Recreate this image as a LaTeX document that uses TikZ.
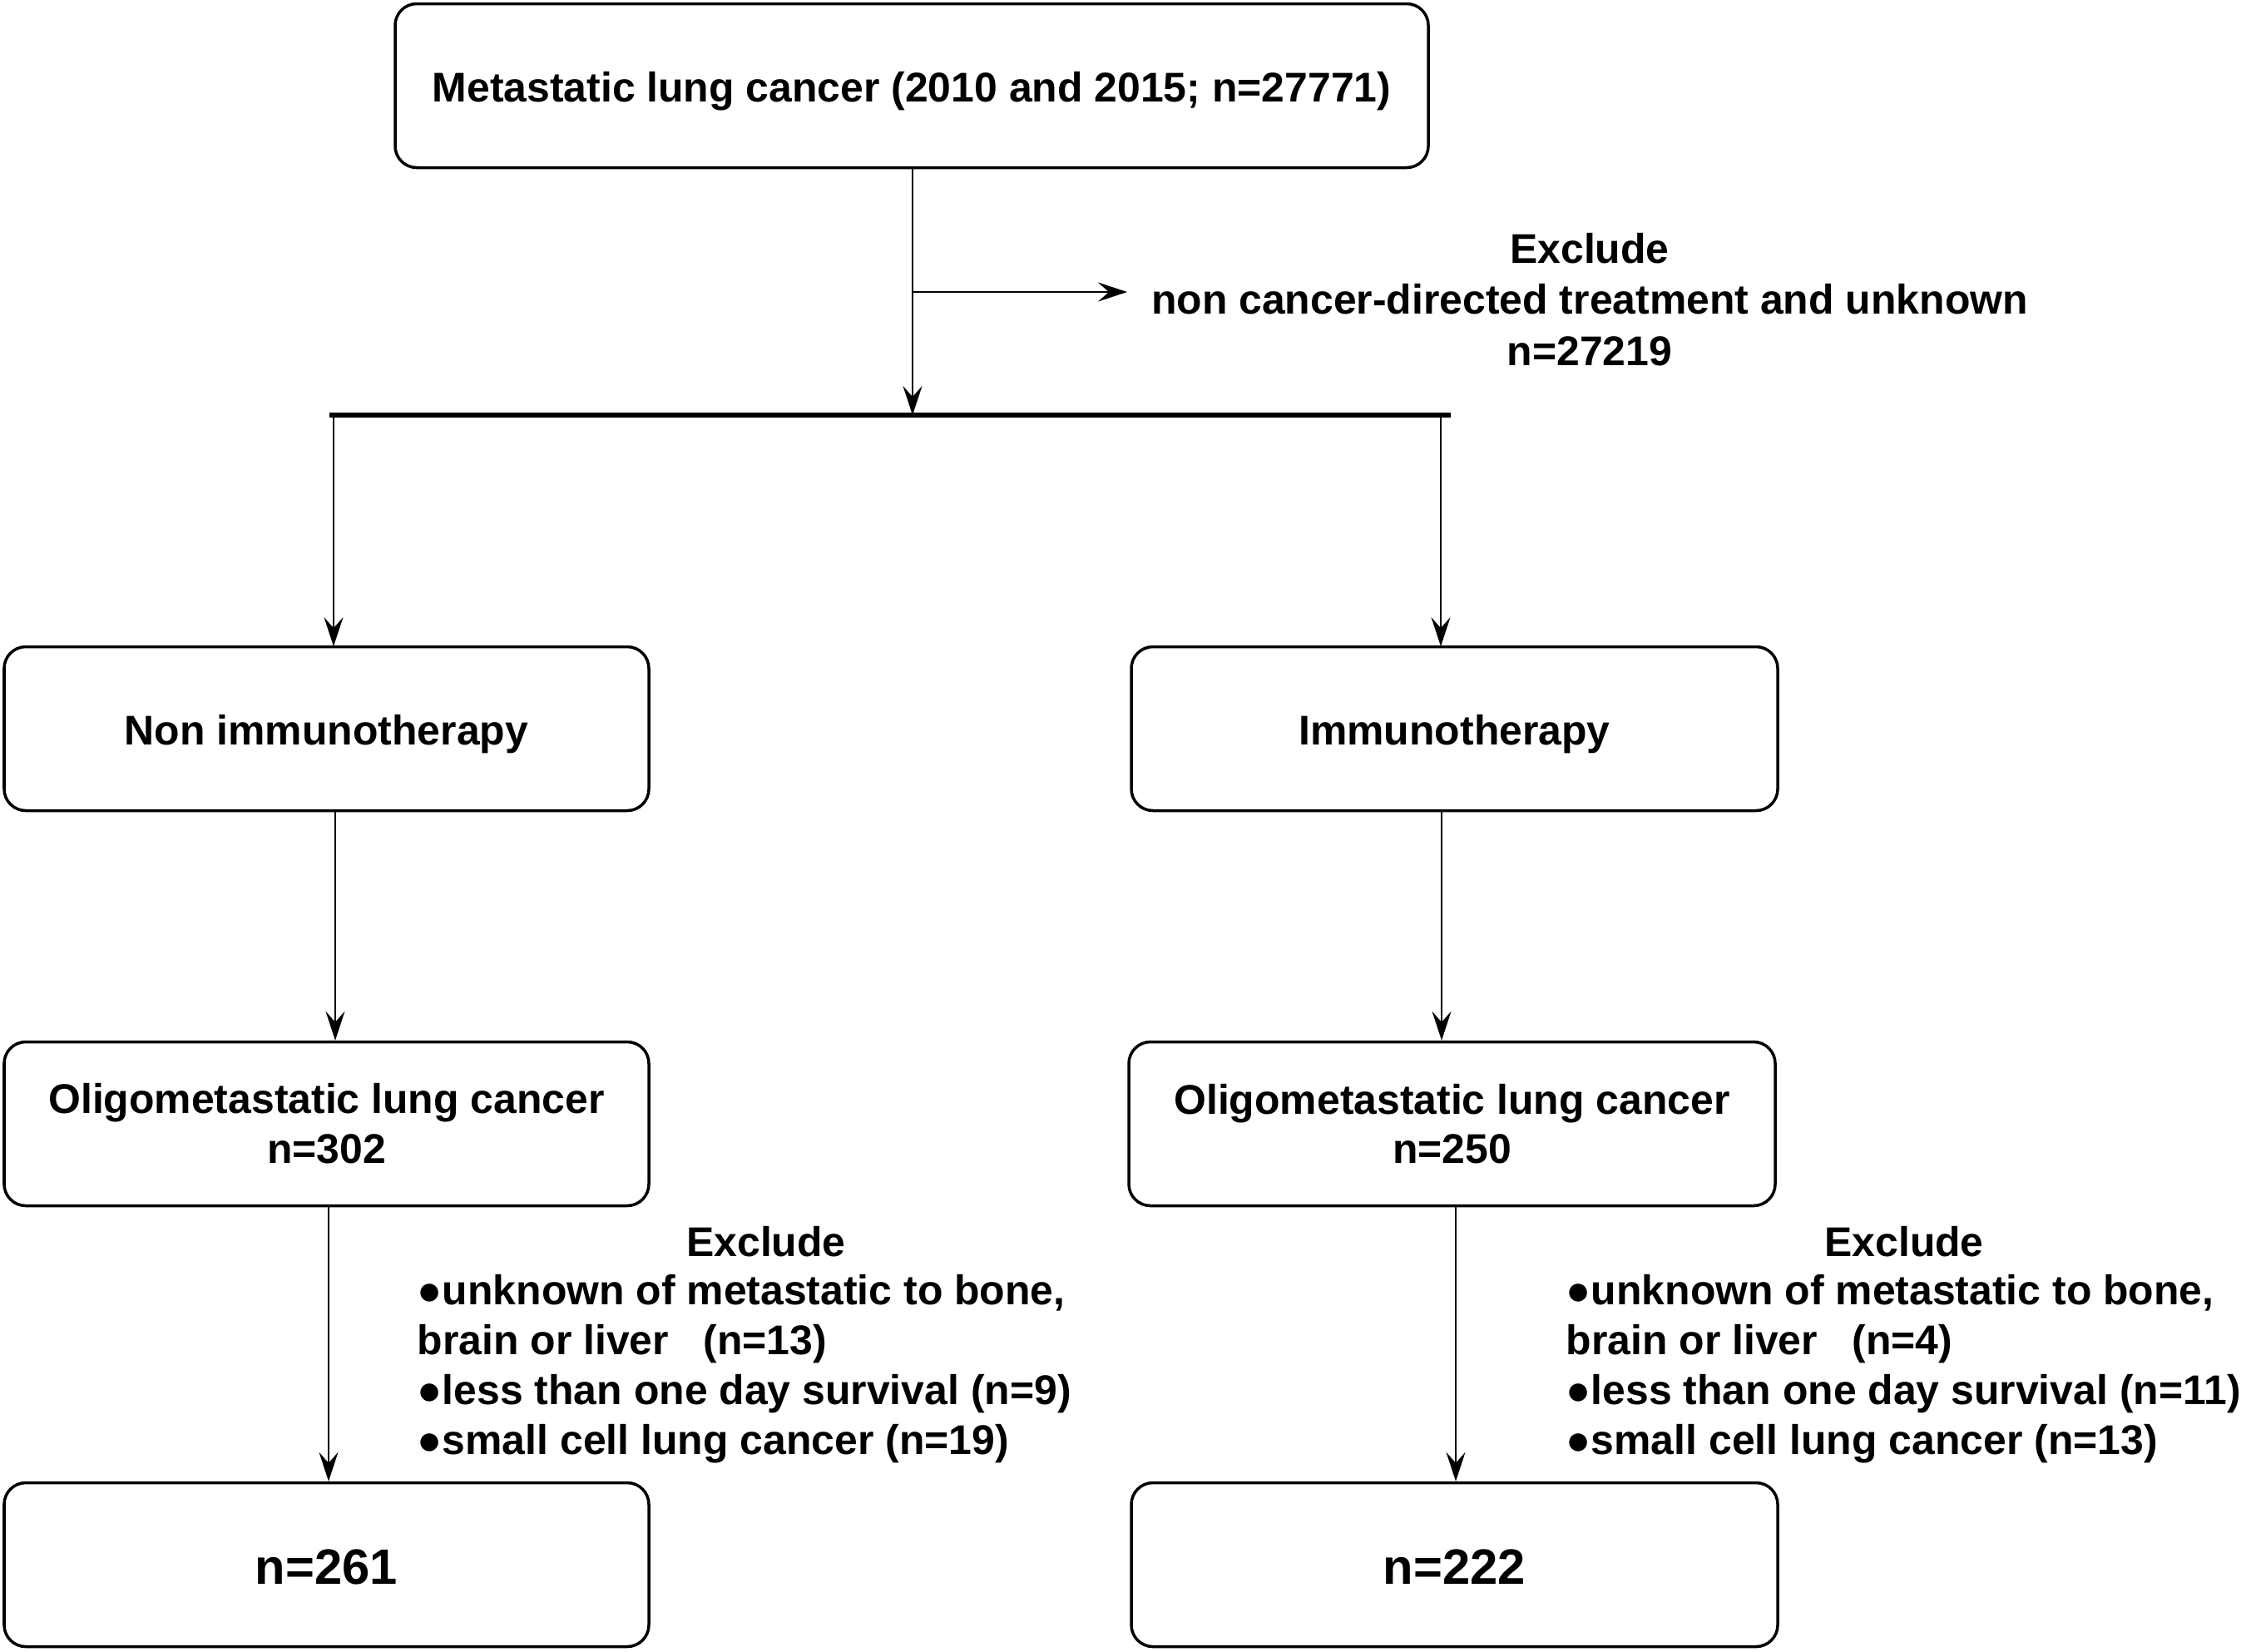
\documentclass[tikz,border=0pt]{standalone}
\usepackage{fontspec}
\setmainfont{Liberation Sans}
\usetikzlibrary{arrows.meta}
\newcommand{\lowertxt}[1]{\raisebox{-0.07cm}[\height][\depth]{#1}}
\begin{document}
\begin{tikzpicture}[
  box/.style={draw, line width=1pt, rounded corners=0.26cm, minimum height=1.97cm, align=center, font=\fontsize{14.2}{17}\selectfont\bfseries, inner sep=0pt},
  txt/.style={font=\fontsize{14.2}{17}\selectfont\bfseries, inner sep=0pt},
  arr/.style={line width=0.5pt, -{Stealth[length=3.5mm, width=2.3mm, inset=1.3mm]}},
  big/.style={font=\fontsize{17}{20}\selectfont\bfseries}
]
\useasboundingbox (0,0) rectangle (27,-19.85);
% top box
\node[box, minimum width=12.42cm] (top) at (10.96,-1.03) {\lowertxt{Metastatic lung cancer (2010 and 2015; n=27771)}};
% exclude 1
\node[txt, align=center] (ex1) at (19.11,-3.60) {Exclude\\[0.5pt]non cancer-directed treatment and unknown\\[0.5pt]n=27219};
% bar
\coordinate (barL) at (3.96,-4.99);
\coordinate (barR) at (17.44,-4.99);
\coordinate (barM) at (10.97,-4.99);
\coordinate (brS) at (10.97,-3.51);
\coordinate (brE) at (13.55,-3.51);
\draw[line width=1.8pt] (barL) -- (barR);
\draw[arr] (top.south -| barM) -- (barM);
\draw[arr, line width=0.6pt] (brS) -- (brE);
% second row
\node[box, minimum width=7.75cm] (non) at (3.925,-8.76) {\lowertxt{Non immunotherapy}};
\node[box, minimum width=7.77cm] (imm) at (17.485,-8.76) {\lowertxt{Immunotherapy}};
\draw[arr] (4.01,-4.99) -- (4.01,-7.77);
\draw[arr] (17.32,-4.99) -- (17.32,-7.77);
% third row
\node[box, minimum width=7.75cm] (oliL) at (3.925,-13.51) {Oligometastatic lung cancer\\n=302};
\node[box, minimum width=7.77cm] (oliR) at (17.455,-13.51) {Oligometastatic lung cancer\\n=250};
\draw[arr] (non.south -| 4.03,0) -- (oliL.north -| 4.03,0);
\draw[arr] (imm.south -| 17.33,0) -- (oliR.north -| 17.33,0);
% bottom row
\node[box, minimum width=7.75cm, big] (botL) at (3.925,-18.81) {\raisebox{-0.03cm}[\height][\depth]{n=261}};
\node[box, minimum width=7.77cm, big] (botR) at (17.485,-18.81) {\raisebox{-0.03cm}[\height][\depth]{n=222}};
\draw[arr] (oliL.south -| 3.95,0) -- (botL.north -| 3.95,0);
\draw[arr] (oliR.south -| 17.50,0) -- (botR.north -| 17.50,0);
% exclusion lists
\node[txt, anchor=base] (exL) at (9.21,-15.10) {Exclude};
\node[txt, anchor=north west, align=left] (listL) at (5.01,-15.32) {●unknown of metastatic to bone,\\brain or liver\ \ \ (n=13)\\●less than one day survival (n=9)\\●small cell lung cancer (n=19)};
\node[txt, anchor=base] (exR) at (22.89,-15.10) {Exclude};
\node[txt, anchor=north west, align=left] (listR) at (18.82,-15.32) {●unknown of metastatic to bone,\\brain or liver\ \ \ (n=4)\\●less than one day survival (n=11)\\●small cell lung cancer (n=13)};
\end{tikzpicture}
\end{document}
